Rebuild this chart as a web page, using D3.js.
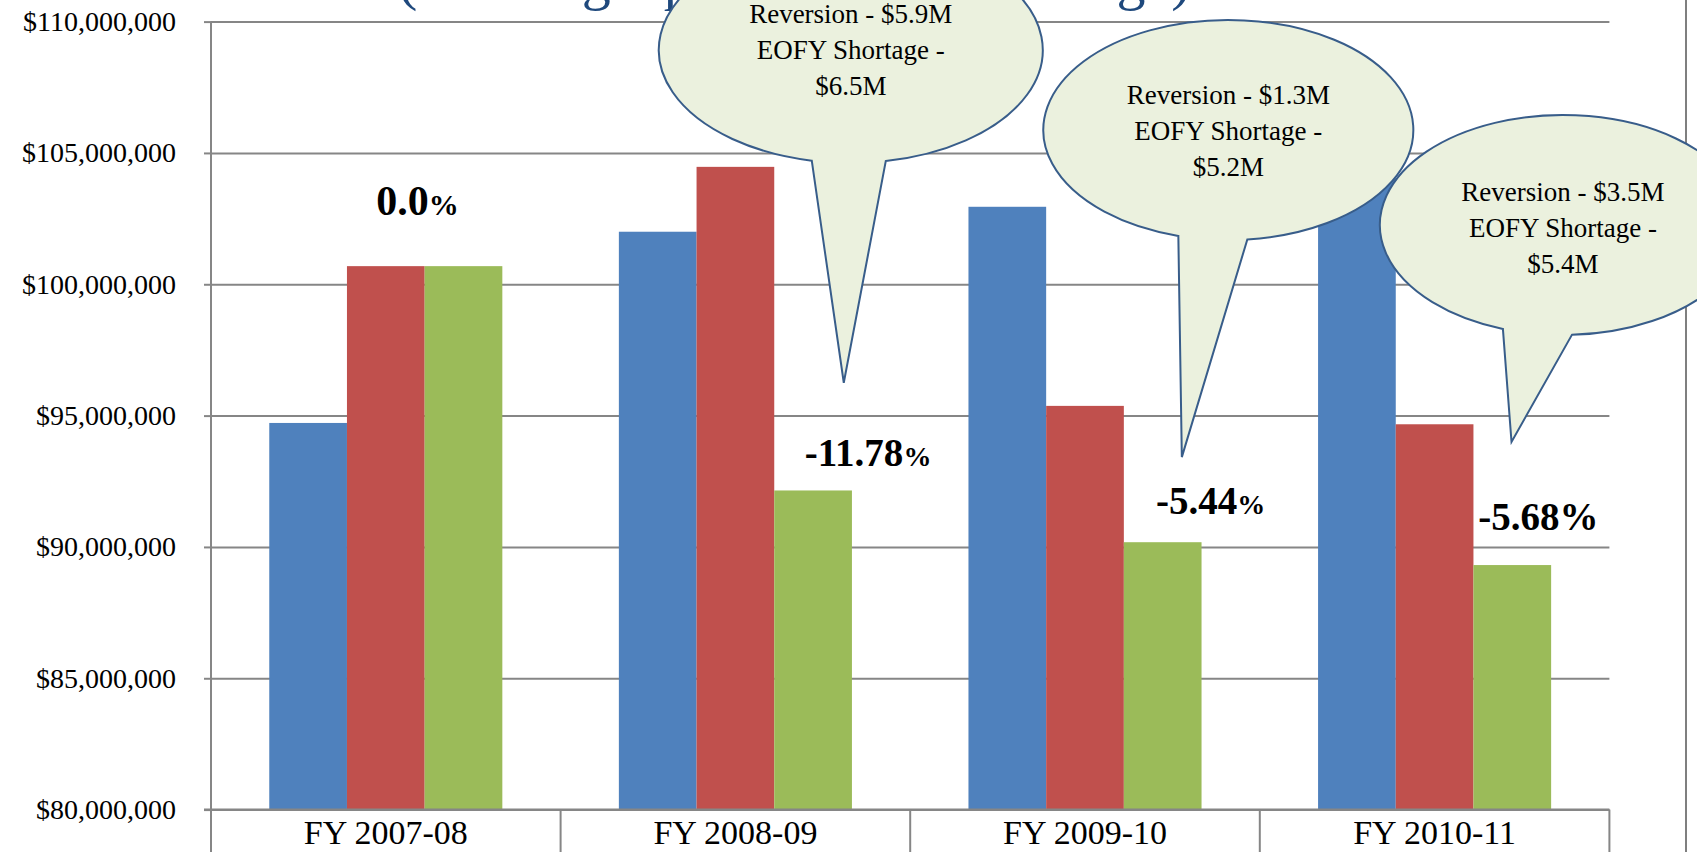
<!DOCTYPE html>
<html>
<head>
<meta charset="utf-8">
<script src="https://cdn.jsdelivr.net/npm/d3@7/dist/d3.min.js"></script>
<style>
  body { margin: 0; background: #ffffff; }
  svg { display: block; }
</style>
</head>
<body>
<div id="chart_container"></div>
<script>
// data
var categories = ["FY 2007-08", "FY 2008-09", "FY 2009-10", "FY 2010-11"];
var seriesNames = ["blue", "red", "green"];
var blueValues = [94720000, 102000000, 102950000, 104200000];
var redValues = [100690000, 104470000, 95370000, 94670000];
var greenValues = [100690000, 92150000, 90180000, 89310000];
var yTicks = [80000000, 85000000, 90000000, 95000000, 100000000, 105000000, 110000000];
var pctLabels = ["0.0", "-11.78", "-5.44", "-5.68"];
var calloutCategory = [1, 2, 3];
var calloutLines = [
  ["Reversion - $5.9M", "EOFY Shortage -", "$6.5M"],
  ["Reversion - $1.3M", "EOFY Shortage -", "$5.2M"],
  ["Reversion - $3.5M", "EOFY Shortage -", "$5.4M"]
];
var calloutTipValues = [96250000, 93420000, 94000000];
var titleText = "(Funding Appropriation Shortage)";

var colors = { blue: "#4F81BD", red: "#C0504D", green: "#9BBB59" };
var serif = "'Liberation Serif', 'Times New Roman', serif";

var W = 1697, H = 852;
var plotLeft = 211, plotRight = 1609.4, plotTop = 21.6, plotBottom = 809.6;

var svg = d3.select("#chart_container")
  .append("svg")
  .attr("width", W)
  .attr("height", H);

// scales
var x0 = d3.scaleBand()
  .domain(categories)
  .range([plotLeft, plotRight])
  .padding(0);

var x1 = d3.scaleBand()
  .domain(seriesNames)
  .range([x0.bandwidth() / 6, x0.bandwidth() * 5 / 6])
  .padding(0);

var y = d3.scaleLinear()
  .domain([80000000, 110000000])
  .range([plotBottom, plotTop]);

// half-hidden slide title behind the first bubble
svg.append("text")
  .attr("x", 398)
  .attr("y", -1)
  .style("font-family", serif)
  .style("font-size", "58px")
  .style("fill", "#1F497D")
  .text(titleText);

// gridlines + y axis
var yAxis = svg.append("g")
  .attr("transform", "translate(" + plotLeft + ",0)")
  .call(d3.axisLeft(y)
    .tickValues(yTicks)
    .tickSize(7)
    .tickPadding(28)
    .tickFormat(function (d) { return "$" + d3.format(",")(d); }));
yAxis.attr("font-family", serif).attr("font-size", 28);
yAxis.select(".domain").remove();
yAxis.selectAll(".tick line").attr("stroke", "#868686").attr("stroke-width", 2);
yAxis.selectAll(".tick text")
  .style("font-family", serif)
  .style("font-size", "28px")
  .style("fill", "#000");

var grid = svg.append("g")
  .attr("transform", "translate(" + plotLeft + ",0)")
  .call(d3.axisLeft(y)
    .tickValues(yTicks)
    .tickSize(-(plotRight - plotLeft))
    .tickFormat(""));
grid.select(".domain").remove();
grid.selectAll(".tick line").attr("stroke", "#868686").attr("stroke-width", 2);

// vertical axis line, running down as the first category divider
svg.append("line")
  .attr("x1", plotLeft).attr("x2", plotLeft)
  .attr("y1", plotTop).attr("y2", H)
  .attr("stroke", "#868686").attr("stroke-width", 2);

// bars
var rows = categories.map(function (c, i) {
  return { cat: c, blue: blueValues[i], red: redValues[i], green: greenValues[i] };
});

var groups = svg.selectAll("g.bar-group")
  .data(rows)
  .enter()
  .append("g")
  .attr("class", "bar-group")
  .attr("transform", function (d) { return "translate(" + x0(d.cat) + ",0)"; });

groups.selectAll("rect")
  .data(function (d) { return seriesNames.map(function (s) { return { key: s, value: d[s] }; }); })
  .enter()
  .append("rect")
  .attr("x", function (d) { return x1(d.key); })
  .attr("y", function (d) { return y(d.value); })
  .attr("width", x1.bandwidth())
  .attr("height", function (d) { return y(80000000) - y(d.value); })
  .attr("fill", function (d) { return colors[d.key]; });

// category axis: baseline, dividers and labels
var xAxis = svg.append("g")
  .attr("transform", "translate(0," + plotBottom + ")");
xAxis.append("line")
  .attr("x1", plotLeft - 7).attr("x2", plotRight)
  .attr("stroke", "#868686").attr("stroke-width", 2);
xAxis.selectAll("line.divider")
  .data(categories)
  .enter()
  .append("line")
  .attr("class", "divider")
  .attr("x1", function (d) { return x0(d) + x0.bandwidth(); })
  .attr("x2", function (d) { return x0(d) + x0.bandwidth(); })
  .attr("y1", 0).attr("y2", H - plotBottom)
  .attr("stroke", "#868686").attr("stroke-width", 2);
xAxis.selectAll("text")
  .data(categories)
  .enter()
  .append("text")
  .attr("x", function (d) { return x0(d) + x0.bandwidth() / 2; })
  .attr("y", 34)
  .attr("text-anchor", "middle")
  .style("font-family", serif)
  .style("font-size", "34px")
  .text(function (d) { return d; });

// chart area right border
svg.append("line")
  .attr("x1", 1686).attr("x2", 1686)
  .attr("y1", 0).attr("y2", H)
  .attr("stroke", "#7F7F7F").attr("stroke-width", 2);

// percent change labels, placed near each green bar
var pctPlace = [
  { dx: -46, dy: -51, numSize: 42, pctSize: 30 },
  { dx: 55, dy: -24, numSize: 39, pctSize: 28 },
  { dx: 48, dy: -28, numSize: 39, pctSize: 28 },
  { dx: 26, dy: -35, numSize: 39, pctSize: 39 }
];
pctLabels.forEach(function (p, i) {
  var gx = x0(categories[i]) + x1("green") + x1.bandwidth() / 2;
  var t = svg.append("text")
    .attr("x", gx + pctPlace[i].dx)
    .attr("y", y(greenValues[i]) + pctPlace[i].dy)
    .attr("text-anchor", "middle")
    .style("font-family", serif)
    .style("font-weight", "bold")
    .style("fill", "#000");
  t.append("tspan").style("font-size", pctPlace[i].numSize + "px").text(p);
  t.append("tspan").style("font-size", pctPlace[i].pctSize + "px").text("%");
});

// speech bubbles
var calloutGeo = [
  { f: 0.83, cy: 50, rx: 192, ry: 113, b1: -39, b2: 35, tipF: 0.81, ty: 0 },
  { f: 0.91, cy: 130, rx: 185, ry: 110, b1: -50, b2: 19, tipF: 0.777, ty: 1 },
  { f: 0.867, cy: 225, rx: 183, ry: 110, b1: -60, b2: 9, tipF: 0.72, ty: 3 }
];

calloutCategory.forEach(function (ci, i) {
  var g = calloutGeo[i];
  var cat = categories[ci];
  var cx = x0(cat) + g.f * x0.bandwidth();
  var cy = g.cy;
  var baseY = function (dx) { return cy + g.ry * Math.sqrt(1 - (dx / g.rx) * (dx / g.rx)); };
  var tipX = x0(cat) + g.tipF * x0.bandwidth();
  var tipY = y(calloutTipValues[i]);
  var path = d3.path();
  path.moveTo(cx + g.b2, baseY(g.b2));
  var d = path.toString() +
    " A " + g.rx + " " + g.ry + " 0 1 0 " + (cx + g.b1) + " " + baseY(g.b1) +
    " L " + tipX + " " + tipY + " Z";
  svg.append("path")
    .attr("d", d)
    .attr("fill", "#EBF1DE")
    .attr("stroke", "#385D8A")
    .attr("stroke-width", 2)
    .attr("stroke-linejoin", "miter");

  svg.selectAll(null)
    .data(calloutLines[i])
    .enter()
    .append("text")
    .attr("x", cx)
    .attr("y", function (t, k) { return cy - 27 + g.ty + k * 36; })
    .attr("text-anchor", "middle")
    .style("font-family", serif)
    .style("font-size", "27px")
    .style("fill", "#000")
    .text(function (t) { return t; });
});
</script>
</body>
</html>
